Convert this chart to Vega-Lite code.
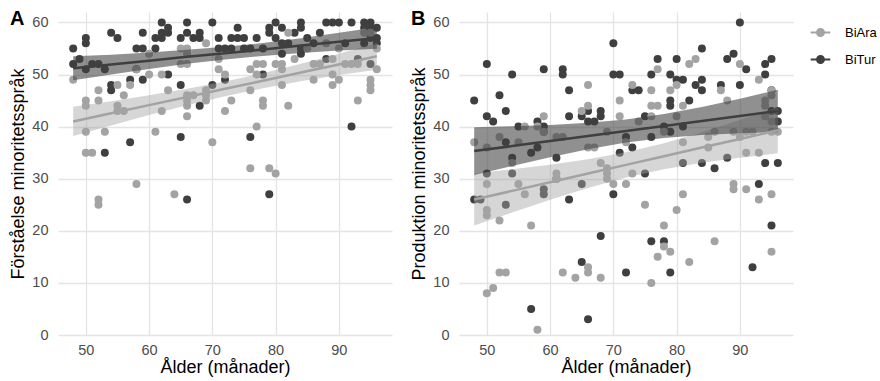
{
  "$schema": "https://vega.github.io/schema/vega-lite/v6.json",
  "padding": {"left": 9, "top": 9, "right": 0, "bottom": 1},
  "background": "white",
  "config": {
    "view": {"stroke": null},
    "font": "Liberation Sans",
    "concat": {"spacing": 18},
    "axis": {"domain": false, "ticks": false, "labelFont": "Liberation Sans", "labelFontSize": 14.5, "labelColor": "#4d4d4d", "titleFont": "Liberation Sans", "titleFontSize": 18, "titleFontWeight": "normal", "titleColor": "#000000"},
    "legend": {"labelFont": "Liberation Sans", "labelFontSize": 13, "labelColor": "#000000"}
  },
  "datasets": {
    "pts": [
      {"panel":"A","group":"BiTur","age":48,"score":55},{"panel":"A","group":"BiTur","age":48,"score":52},{"panel":"A","group":"BiTur","age":49,"score":53},{"panel":"A","group":"BiTur","age":50,"score":57},{"panel":"A","group":"BiTur","age":50,"score":56},{"panel":"A","group":"BiTur","age":50,"score":51},{"panel":"A","group":"BiTur","age":51,"score":52},{"panel":"A","group":"BiTur","age":52,"score":52},{"panel":"A","group":"BiTur","age":53,"score":51},{"panel":"A","group":"BiTur","age":53,"score":35},{"panel":"A","group":"BiTur","age":54,"score":58},{"panel":"A","group":"BiTur","age":54,"score":48},{"panel":"A","group":"BiTur","age":54,"score":47},{"panel":"A","group":"BiTur","age":55,"score":57},{"panel":"A","group":"BiTur","age":57,"score":49},{"panel":"A","group":"BiTur","age":57,"score":37},{"panel":"A","group":"BiTur","age":58,"score":55},{"panel":"A","group":"BiTur","age":58,"score":51},{"panel":"A","group":"BiTur","age":59,"score":55},{"panel":"A","group":"BiTur","age":59,"score":58},{"panel":"A","group":"BiTur","age":59,"score":49},{"panel":"A","group":"BiTur","age":61,"score":57},{"panel":"A","group":"BiTur","age":61,"score":55},{"panel":"A","group":"BiTur","age":62,"score":58},{"panel":"A","group":"BiTur","age":62,"score":60},{"panel":"A","group":"BiTur","age":62,"score":57},{"panel":"A","group":"BiTur","age":63,"score":58},{"panel":"A","group":"BiTur","age":63,"score":59},{"panel":"A","group":"BiTur","age":63,"score":50},{"panel":"A","group":"BiTur","age":65,"score":57},{"panel":"A","group":"BiTur","age":65,"score":48},{"panel":"A","group":"BiTur","age":65,"score":38},{"panel":"A","group":"BiTur","age":66,"score":60},{"panel":"A","group":"BiTur","age":66,"score":58},{"panel":"A","group":"BiTur","age":67,"score":57},{"panel":"A","group":"BiTur","age":68,"score":58},{"panel":"A","group":"BiTur","age":68,"score":57},{"panel":"A","group":"BiTur","age":68,"score":44},{"panel":"A","group":"BiTur","age":70,"score":60},{"panel":"A","group":"BiTur","age":70,"score":48},{"panel":"A","group":"BiTur","age":71,"score":57},{"panel":"A","group":"BiTur","age":71,"score":55},{"panel":"A","group":"BiTur","age":72,"score":55},{"panel":"A","group":"BiTur","age":72,"score":49},{"panel":"A","group":"BiTur","age":73,"score":55},{"panel":"A","group":"BiTur","age":73,"score":57},{"panel":"A","group":"BiTur","age":74,"score":59},{"panel":"A","group":"BiTur","age":74,"score":57},{"panel":"A","group":"BiTur","age":75,"score":55},{"panel":"A","group":"BiTur","age":75,"score":57},{"panel":"A","group":"BiTur","age":76,"score":55},{"panel":"A","group":"BiTur","age":76,"score":38},{"panel":"A","group":"BiTur","age":77,"score":57},{"panel":"A","group":"BiTur","age":78,"score":55},{"panel":"A","group":"BiTur","age":78,"score":50},{"panel":"A","group":"BiTur","age":79,"score":58},{"panel":"A","group":"BiTur","age":79,"score":59},{"panel":"A","group":"BiTur","age":80,"score":60},{"panel":"A","group":"BiTur","age":80,"score":57},{"panel":"A","group":"BiTur","age":81,"score":59},{"panel":"A","group":"BiTur","age":81,"score":56},{"panel":"A","group":"BiTur","age":81,"score":54},{"panel":"A","group":"BiTur","age":82,"score":56},{"panel":"A","group":"BiTur","age":83,"score":58},{"panel":"A","group":"BiTur","age":84,"score":60},{"panel":"A","group":"BiTur","age":84,"score":59},{"panel":"A","group":"BiTur","age":84,"score":55},{"panel":"A","group":"BiTur","age":84,"score":54},{"panel":"A","group":"BiTur","age":85,"score":57},{"panel":"A","group":"BiTur","age":86,"score":56},{"panel":"A","group":"BiTur","age":87,"score":58},{"panel":"A","group":"BiTur","age":88,"score":60},{"panel":"A","group":"BiTur","age":88,"score":53},{"panel":"A","group":"BiTur","age":89,"score":60},{"panel":"A","group":"BiTur","age":90,"score":60},{"panel":"A","group":"BiTur","age":91,"score":56},{"panel":"A","group":"BiTur","age":92,"score":60},{"panel":"A","group":"BiTur","age":92,"score":40},{"panel":"A","group":"BiTur","age":93,"score":53},{"panel":"A","group":"BiTur","age":94,"score":60},{"panel":"A","group":"BiTur","age":94,"score":59},{"panel":"A","group":"BiTur","age":94,"score":56},{"panel":"A","group":"BiTur","age":95,"score":60},{"panel":"A","group":"BiTur","age":95,"score":59},{"panel":"A","group":"BiTur","age":95,"score":57},{"panel":"A","group":"BiTur","age":95,"score":52},{"panel":"A","group":"BiTur","age":96,"score":59},{"panel":"A","group":"BiTur","age":96,"score":57},{"panel":"A","group":"BiTur","age":96,"score":56},{"panel":"A","group":"BiTur","age":66,"score":26},{"panel":"A","group":"BiTur","age":79,"score":27},
      {"panel":"A","group":"BiAra","age":48,"score":49},{"panel":"A","group":"BiAra","age":50,"score":45},{"panel":"A","group":"BiAra","age":50,"score":44},{"panel":"A","group":"BiAra","age":50,"score":39},{"panel":"A","group":"BiAra","age":50,"score":35},{"panel":"A","group":"BiAra","age":51,"score":35},{"panel":"A","group":"BiAra","age":52,"score":47},{"panel":"A","group":"BiAra","age":52,"score":45},{"panel":"A","group":"BiAra","age":52,"score":26},{"panel":"A","group":"BiAra","age":52,"score":25},{"panel":"A","group":"BiAra","age":53,"score":39},{"panel":"A","group":"BiAra","age":55,"score":48},{"panel":"A","group":"BiAra","age":55,"score":44},{"panel":"A","group":"BiAra","age":55,"score":43},{"panel":"A","group":"BiAra","age":56,"score":46},{"panel":"A","group":"BiAra","age":56,"score":43},{"panel":"A","group":"BiAra","age":57,"score":48},{"panel":"A","group":"BiAra","age":58,"score":51},{"panel":"A","group":"BiAra","age":58,"score":29},{"panel":"A","group":"BiAra","age":60,"score":54},{"panel":"A","group":"BiAra","age":60,"score":50},{"panel":"A","group":"BiAra","age":61,"score":39},{"panel":"A","group":"BiAra","age":62,"score":50},{"panel":"A","group":"BiAra","age":62,"score":43},{"panel":"A","group":"BiAra","age":63,"score":47},{"panel":"A","group":"BiAra","age":64,"score":27},{"panel":"A","group":"BiAra","age":65,"score":55},{"panel":"A","group":"BiAra","age":65,"score":52},{"panel":"A","group":"BiAra","age":66,"score":55},{"panel":"A","group":"BiAra","age":66,"score":54},{"panel":"A","group":"BiAra","age":66,"score":52},{"panel":"A","group":"BiAra","age":66,"score":46},{"panel":"A","group":"BiAra","age":66,"score":45},{"panel":"A","group":"BiAra","age":66,"score":44},{"panel":"A","group":"BiAra","age":66,"score":42},{"panel":"A","group":"BiAra","age":67,"score":46},{"panel":"A","group":"BiAra","age":69,"score":56},{"panel":"A","group":"BiAra","age":69,"score":47},{"panel":"A","group":"BiAra","age":69,"score":46},{"panel":"A","group":"BiAra","age":69,"score":45},{"panel":"A","group":"BiAra","age":70,"score":37},{"panel":"A","group":"BiAra","age":71,"score":53},{"panel":"A","group":"BiAra","age":71,"score":51},{"panel":"A","group":"BiAra","age":72,"score":50},{"panel":"A","group":"BiAra","age":72,"score":43},{"panel":"A","group":"BiAra","age":73,"score":45},{"panel":"A","group":"BiAra","age":76,"score":51},{"panel":"A","group":"BiAra","age":76,"score":47},{"panel":"A","group":"BiAra","age":76,"score":32},{"panel":"A","group":"BiAra","age":77,"score":52},{"panel":"A","group":"BiAra","age":77,"score":50},{"panel":"A","group":"BiAra","age":77,"score":40},{"panel":"A","group":"BiAra","age":78,"score":52},{"panel":"A","group":"BiAra","age":78,"score":45},{"panel":"A","group":"BiAra","age":78,"score":44},{"panel":"A","group":"BiAra","age":79,"score":32},{"panel":"A","group":"BiAra","age":80,"score":31},{"panel":"A","group":"BiAra","age":80,"score":52},{"panel":"A","group":"BiAra","age":81,"score":52},{"panel":"A","group":"BiAra","age":81,"score":51},{"panel":"A","group":"BiAra","age":81,"score":48},{"panel":"A","group":"BiAra","age":82,"score":58},{"panel":"A","group":"BiAra","age":82,"score":44},{"panel":"A","group":"BiAra","age":83,"score":53},{"panel":"A","group":"BiAra","age":85,"score":55},{"panel":"A","group":"BiAra","age":86,"score":52},{"panel":"A","group":"BiAra","age":86,"score":49},{"panel":"A","group":"BiAra","age":87,"score":52},{"panel":"A","group":"BiAra","age":88,"score":56},{"panel":"A","group":"BiAra","age":89,"score":53},{"panel":"A","group":"BiAra","age":89,"score":50},{"panel":"A","group":"BiAra","age":89,"score":48},{"panel":"A","group":"BiAra","age":90,"score":55},{"panel":"A","group":"BiAra","age":90,"score":49},{"panel":"A","group":"BiAra","age":91,"score":52},{"panel":"A","group":"BiAra","age":92,"score":52},{"panel":"A","group":"BiAra","age":93,"score":52},{"panel":"A","group":"BiAra","age":93,"score":45},{"panel":"A","group":"BiAra","age":94,"score":58},{"panel":"A","group":"BiAra","age":95,"score":58},{"panel":"A","group":"BiAra","age":95,"score":49},{"panel":"A","group":"BiAra","age":95,"score":48},{"panel":"A","group":"BiAra","age":95,"score":47},{"panel":"A","group":"BiAra","age":96,"score":55},{"panel":"A","group":"BiAra","age":96,"score":51},
      {"panel":"B","group":"BiTur","age":48,"score":45},{"panel":"B","group":"BiTur","age":48,"score":26},{"panel":"B","group":"BiTur","age":49,"score":26},{"panel":"B","group":"BiTur","age":50,"score":52},{"panel":"B","group":"BiTur","age":50,"score":42},{"panel":"B","group":"BiTur","age":50,"score":31},{"panel":"B","group":"BiTur","age":51,"score":41},{"panel":"B","group":"BiTur","age":52,"score":46},{"panel":"B","group":"BiTur","age":53,"score":43},{"panel":"B","group":"BiTur","age":53,"score":37},{"panel":"B","group":"BiTur","age":53,"score":25},{"panel":"B","group":"BiTur","age":54,"score":50},{"panel":"B","group":"BiTur","age":54,"score":34},{"panel":"B","group":"BiTur","age":54,"score":31},{"panel":"B","group":"BiTur","age":55,"score":40},{"panel":"B","group":"BiTur","age":57,"score":35},{"panel":"B","group":"BiTur","age":57,"score":5},{"panel":"B","group":"BiTur","age":58,"score":41},{"panel":"B","group":"BiTur","age":58,"score":36},{"panel":"B","group":"BiTur","age":59,"score":51},{"panel":"B","group":"BiTur","age":59,"score":40},{"panel":"B","group":"BiTur","age":59,"score":39},{"panel":"B","group":"BiTur","age":59,"score":28},{"panel":"B","group":"BiTur","age":59,"score":27},{"panel":"B","group":"BiTur","age":61,"score":34},{"panel":"B","group":"BiTur","age":61,"score":30},{"panel":"B","group":"BiTur","age":62,"score":51},{"panel":"B","group":"BiTur","age":62,"score":50},{"panel":"B","group":"BiTur","age":63,"score":47},{"panel":"B","group":"BiTur","age":63,"score":42},{"panel":"B","group":"BiTur","age":63,"score":26},{"panel":"B","group":"BiTur","age":65,"score":42},{"panel":"B","group":"BiTur","age":65,"score":29},{"panel":"B","group":"BiTur","age":65,"score":14},{"panel":"B","group":"BiTur","age":66,"score":43},{"panel":"B","group":"BiTur","age":66,"score":41},{"panel":"B","group":"BiTur","age":66,"score":3},{"panel":"B","group":"BiTur","age":67,"score":41},{"panel":"B","group":"BiTur","age":68,"score":43},{"panel":"B","group":"BiTur","age":68,"score":42},{"panel":"B","group":"BiTur","age":68,"score":19},{"panel":"B","group":"BiTur","age":70,"score":56},{"panel":"B","group":"BiTur","age":70,"score":50},{"panel":"B","group":"BiTur","age":70,"score":27},{"panel":"B","group":"BiTur","age":71,"score":50},{"panel":"B","group":"BiTur","age":71,"score":35},{"panel":"B","group":"BiTur","age":72,"score":38},{"panel":"B","group":"BiTur","age":72,"score":12},{"panel":"B","group":"BiTur","age":73,"score":47},{"panel":"B","group":"BiTur","age":73,"score":36},{"panel":"B","group":"BiTur","age":74,"score":47},{"panel":"B","group":"BiTur","age":75,"score":42},{"panel":"B","group":"BiTur","age":75,"score":31},{"panel":"B","group":"BiTur","age":76,"score":50},{"panel":"B","group":"BiTur","age":76,"score":38},{"panel":"B","group":"BiTur","age":76,"score":18},{"panel":"B","group":"BiTur","age":77,"score":53},{"panel":"B","group":"BiTur","age":78,"score":40},{"panel":"B","group":"BiTur","age":78,"score":18},{"panel":"B","group":"BiTur","age":79,"score":50},{"panel":"B","group":"BiTur","age":79,"score":45},{"panel":"B","group":"BiTur","age":79,"score":44},{"panel":"B","group":"BiTur","age":79,"score":39},{"panel":"B","group":"BiTur","age":79,"score":12},{"panel":"B","group":"BiTur","age":80,"score":53},{"panel":"B","group":"BiTur","age":80,"score":49},{"panel":"B","group":"BiTur","age":81,"score":49},{"panel":"B","group":"BiTur","age":81,"score":40},{"panel":"B","group":"BiTur","age":81,"score":33},{"panel":"B","group":"BiTur","age":82,"score":45},{"panel":"B","group":"BiTur","age":83,"score":48},{"panel":"B","group":"BiTur","age":84,"score":55},{"panel":"B","group":"BiTur","age":84,"score":49},{"panel":"B","group":"BiTur","age":84,"score":47},{"panel":"B","group":"BiTur","age":84,"score":33},{"panel":"B","group":"BiTur","age":86,"score":32},{"panel":"B","group":"BiTur","age":87,"score":48},{"panel":"B","group":"BiTur","age":88,"score":53},{"panel":"B","group":"BiTur","age":88,"score":34},{"panel":"B","group":"BiTur","age":89,"score":54},{"panel":"B","group":"BiTur","age":90,"score":60},{"panel":"B","group":"BiTur","age":90,"score":48},{"panel":"B","group":"BiTur","age":91,"score":51},{"panel":"B","group":"BiTur","age":92,"score":13},{"panel":"B","group":"BiTur","age":93,"score":29},{"panel":"B","group":"BiTur","age":94,"score":52},{"panel":"B","group":"BiTur","age":94,"score":50},{"panel":"B","group":"BiTur","age":94,"score":33},{"panel":"B","group":"BiTur","age":95,"score":53},{"panel":"B","group":"BiTur","age":95,"score":47},{"panel":"B","group":"BiTur","age":95,"score":43},{"panel":"B","group":"BiTur","age":95,"score":21},{"panel":"B","group":"BiTur","age":96,"score":43},{"panel":"B","group":"BiTur","age":96,"score":41},{"panel":"B","group":"BiTur","age":96,"score":33},
      {"panel":"B","group":"BiAra","age":48,"score":37},{"panel":"B","group":"BiAra","age":50,"score":36},{"panel":"B","group":"BiAra","age":50,"score":29},{"panel":"B","group":"BiAra","age":50,"score":24},{"panel":"B","group":"BiAra","age":50,"score":23},{"panel":"B","group":"BiAra","age":50,"score":8},{"panel":"B","group":"BiAra","age":51,"score":9},{"panel":"B","group":"BiAra","age":52,"score":38},{"panel":"B","group":"BiAra","age":52,"score":22},{"panel":"B","group":"BiAra","age":52,"score":12},{"panel":"B","group":"BiAra","age":53,"score":12},{"panel":"B","group":"BiAra","age":54,"score":33},{"panel":"B","group":"BiAra","age":55,"score":37},{"panel":"B","group":"BiAra","age":55,"score":29},{"panel":"B","group":"BiAra","age":56,"score":40},{"panel":"B","group":"BiAra","age":56,"score":27},{"panel":"B","group":"BiAra","age":57,"score":21},{"panel":"B","group":"BiAra","age":58,"score":40},{"panel":"B","group":"BiAra","age":58,"score":1},{"panel":"B","group":"BiAra","age":59,"score":42},{"panel":"B","group":"BiAra","age":59,"score":39},{"panel":"B","group":"BiAra","age":61,"score":38},{"panel":"B","group":"BiAra","age":61,"score":31},{"panel":"B","group":"BiAra","age":61,"score":30},{"panel":"B","group":"BiAra","age":62,"score":38},{"panel":"B","group":"BiAra","age":62,"score":12},{"panel":"B","group":"BiAra","age":64,"score":11},{"panel":"B","group":"BiAra","age":65,"score":43},{"panel":"B","group":"BiAra","age":66,"score":48},{"panel":"B","group":"BiAra","age":66,"score":44},{"panel":"B","group":"BiAra","age":66,"score":36},{"panel":"B","group":"BiAra","age":66,"score":13},{"panel":"B","group":"BiAra","age":66,"score":12},{"panel":"B","group":"BiAra","age":67,"score":36},{"panel":"B","group":"BiAra","age":68,"score":33},{"panel":"B","group":"BiAra","age":68,"score":11},{"panel":"B","group":"BiAra","age":69,"score":39},{"panel":"B","group":"BiAra","age":69,"score":32},{"panel":"B","group":"BiAra","age":69,"score":31},{"panel":"B","group":"BiAra","age":69,"score":30},{"panel":"B","group":"BiAra","age":70,"score":29},{"panel":"B","group":"BiAra","age":71,"score":45},{"panel":"B","group":"BiAra","age":71,"score":42},{"panel":"B","group":"BiAra","age":72,"score":37},{"panel":"B","group":"BiAra","age":72,"score":29},{"panel":"B","group":"BiAra","age":73,"score":48},{"panel":"B","group":"BiAra","age":73,"score":31},{"panel":"B","group":"BiAra","age":74,"score":41},{"panel":"B","group":"BiAra","age":75,"score":25},{"panel":"B","group":"BiAra","age":76,"score":47},{"panel":"B","group":"BiAra","age":76,"score":44},{"panel":"B","group":"BiAra","age":76,"score":42},{"panel":"B","group":"BiAra","age":76,"score":10},{"panel":"B","group":"BiAra","age":77,"score":51},{"panel":"B","group":"BiAra","age":77,"score":44},{"panel":"B","group":"BiAra","age":77,"score":15},{"panel":"B","group":"BiAra","age":78,"score":39},{"panel":"B","group":"BiAra","age":78,"score":21},{"panel":"B","group":"BiAra","age":78,"score":17},{"panel":"B","group":"BiAra","age":79,"score":47},{"panel":"B","group":"BiAra","age":79,"score":16},{"panel":"B","group":"BiAra","age":80,"score":48},{"panel":"B","group":"BiAra","age":80,"score":42},{"panel":"B","group":"BiAra","age":80,"score":24},{"panel":"B","group":"BiAra","age":81,"score":44},{"panel":"B","group":"BiAra","age":81,"score":37},{"panel":"B","group":"BiAra","age":81,"score":27},{"panel":"B","group":"BiAra","age":82,"score":52},{"panel":"B","group":"BiAra","age":82,"score":14},{"panel":"B","group":"BiAra","age":83,"score":53},{"panel":"B","group":"BiAra","age":85,"score":38},{"panel":"B","group":"BiAra","age":85,"score":36},{"panel":"B","group":"BiAra","age":86,"score":39},{"panel":"B","group":"BiAra","age":86,"score":18},{"panel":"B","group":"BiAra","age":87,"score":47},{"panel":"B","group":"BiAra","age":88,"score":45},{"panel":"B","group":"BiAra","age":89,"score":39},{"panel":"B","group":"BiAra","age":89,"score":29},{"panel":"B","group":"BiAra","age":89,"score":28},{"panel":"B","group":"BiAra","age":90,"score":52},{"panel":"B","group":"BiAra","age":90,"score":38},{"panel":"B","group":"BiAra","age":91,"score":39},{"panel":"B","group":"BiAra","age":91,"score":35},{"panel":"B","group":"BiAra","age":91,"score":28},{"panel":"B","group":"BiAra","age":92,"score":39},{"panel":"B","group":"BiAra","age":93,"score":49},{"panel":"B","group":"BiAra","age":93,"score":35},{"panel":"B","group":"BiAra","age":93,"score":26},{"panel":"B","group":"BiAra","age":94,"score":45},{"panel":"B","group":"BiAra","age":94,"score":44},{"panel":"B","group":"BiAra","age":94,"score":42},{"panel":"B","group":"BiAra","age":95,"score":47},{"panel":"B","group":"BiAra","age":95,"score":46},{"panel":"B","group":"BiAra","age":95,"score":41},{"panel":"B","group":"BiAra","age":95,"score":39},{"panel":"B","group":"BiAra","age":95,"score":27},{"panel":"B","group":"BiAra","age":95,"score":16},{"panel":"B","group":"BiAra","age":96,"score":39}
    ],
    "bands": [
      {"panel":"A","group":"BiTur","age":48,"lo":48.9,"fit":51.2,"hi":53.5},{"panel":"A","group":"BiTur","age":54,"lo":50.0,"fit":51.9,"hi":53.8},{"panel":"A","group":"BiTur","age":60,"lo":51.05,"fit":52.65,"hi":54.25},{"panel":"A","group":"BiTur","age":66,"lo":52.06,"fit":53.4,"hi":54.74},{"panel":"A","group":"BiTur","age":72,"lo":52.89,"fit":54.1,"hi":55.31},{"panel":"A","group":"BiTur","age":78,"lo":53.56,"fit":54.8,"hi":56.04},{"panel":"A","group":"BiTur","age":84,"lo":54.13,"fit":55.55,"hi":56.97},{"panel":"A","group":"BiTur","age":90,"lo":54.6,"fit":56.3,"hi":58.0},{"panel":"A","group":"BiTur","age":96,"lo":54.95,"fit":57.0,"hi":59.05},
      {"panel":"A","group":"BiAra","age":48,"lo":38.2,"fit":41.0,"hi":43.8},{"panel":"A","group":"BiAra","age":54,"lo":40.23,"fit":42.56,"hi":44.89},{"panel":"A","group":"BiAra","age":60,"lo":42.22,"fit":44.13,"hi":46.04},{"panel":"A","group":"BiAra","age":66,"lo":44.1,"fit":45.69,"hi":47.28},{"panel":"A","group":"BiAra","age":72,"lo":45.83,"fit":47.25,"hi":48.67},{"panel":"A","group":"BiAra","age":78,"lo":47.36,"fit":48.81,"hi":50.26},{"panel":"A","group":"BiAra","age":84,"lo":48.7,"fit":50.38,"hi":52.06},{"panel":"A","group":"BiAra","age":90,"lo":49.89,"fit":51.94,"hi":53.99},{"panel":"A","group":"BiAra","age":96,"lo":50.9,"fit":53.5,"hi":56.1},
      {"panel":"B","group":"BiTur","age":48,"lo":30.7,"fit":35.3,"hi":39.9},{"panel":"B","group":"BiTur","age":54,"lo":32.45,"fit":36.26,"hi":40.07},{"panel":"B","group":"BiTur","age":60,"lo":34.13,"fit":37.22,"hi":40.31},{"panel":"B","group":"BiTur","age":66,"lo":35.66,"fit":38.19,"hi":40.72},{"panel":"B","group":"BiTur","age":72,"lo":36.93,"fit":39.15,"hi":41.37},{"panel":"B","group":"BiTur","age":78,"lo":37.82,"fit":40.11,"hi":42.4},{"panel":"B","group":"BiTur","age":84,"lo":38.39,"fit":41.08,"hi":43.77},{"panel":"B","group":"BiTur","age":90,"lo":38.72,"fit":42.04,"hi":45.36},{"panel":"B","group":"BiTur","age":96,"lo":38.94,"fit":43.0,"hi":47.06},
      {"panel":"B","group":"BiAra","age":48,"lo":21.0,"fit":26.0,"hi":31.0},{"panel":"B","group":"BiAra","age":54,"lo":23.52,"fit":27.66,"hi":31.8},{"panel":"B","group":"BiAra","age":60,"lo":25.96,"fit":29.33,"hi":32.7},{"panel":"B","group":"BiAra","age":66,"lo":28.24,"fit":30.99,"hi":33.74},{"panel":"B","group":"BiAra","age":72,"lo":30.22,"fit":32.65,"hi":35.08},{"panel":"B","group":"BiAra","age":78,"lo":31.82,"fit":34.31,"hi":36.8},{"panel":"B","group":"BiAra","age":84,"lo":33.05,"fit":35.98,"hi":38.91},{"panel":"B","group":"BiAra","age":90,"lo":34.03,"fit":37.64,"hi":41.25},{"panel":"B","group":"BiAra","age":96,"lo":34.88,"fit":39.3,"hi":43.72}
    ]
  },
  "hconcat": [
    {
      "width": 334, "height": 323,
      "title": {"text": "A", "anchor": "start", "frame": "group", "fontSize": 20, "fontWeight": "bold", "color": "#000000", "baseline": "top", "dx": -48, "offset": -17},
      "layer": [
        {
          "data": {"name": "pts"},
          "transform": [{"filter": "datum.panel === 'A'"}],
          "mark": {"type": "circle", "size": 64, "opacity": 1},
          "encoding": {
            "x": {"field": "age", "type": "quantitative", "scale": {"domain": [45.6, 98.4], "nice": false, "zero": false},
                  "axis": {"title": "Ålder (månader)", "values": [50,55,60,65,70,75,80,85,90,95], "labelPadding": 8, "titlePadding": 2,
                           "labelExpr": "datum.value % 10 === 0 ? datum.label : ''",
                           "gridColor": {"condition": {"test": "datum.value % 10 === 0", "value": "#e4e4e4"}, "value": "#f1f1f1"},
                           "gridWidth": {"condition": {"test": "datum.value % 10 === 0", "value": 1.3}, "value": 0.8}}},
            "y": {"field": "score", "type": "quantitative", "scale": {"domain": [0, 62], "nice": false},
                  "axis": {"title": "Förståelse minoritetsspråk", "values": [0,5,10,15,20,25,30,35,40,45,50,55,60], "labelPadding": 10, "titlePadding": 4,
                           "labelExpr": "datum.value % 10 === 0 ? datum.label : ''",
                           "gridColor": {"condition": {"test": "datum.value % 10 === 0", "value": "#e4e4e4"}, "value": "#f1f1f1"},
                           "gridWidth": {"condition": {"test": "datum.value % 10 === 0", "value": 1.3}, "value": 0.8}}},
            "color": {"field": "group", "type": "nominal", "scale": {"domain": ["BiAra", "BiTur"], "range": ["#a3a3a3", "#3f3f3f"]},
                      "legend": {"title": null, "orient": "right", "offset": 7, "padding": 13, "rowPadding": 10, "labelOffset": 17,
                                 "symbolType": "M-1.6,0H1.6M-0.55,0a0.55,0.55 0 1,0 1.1,0a0.55,0.55 0 1,0 -1.1,0",
                                 "symbolSize": 150, "symbolStrokeWidth": 2.2, "symbolOpacity": 1,
                                 "encode": {"symbols": {"update": {"stroke": {"scale": "color", "field": "value"}}}}}}
          }
        },
        {
          "data": {"name": "bands"},
          "transform": [{"filter": "datum.panel === 'A' && datum.group === 'BiAra'"}],
          "mark": {"type": "area", "opacity": 0.45},
          "encoding": {
            "x": {"field": "age", "type": "quantitative"},
            "y": {"field": "lo", "type": "quantitative", "stack": null},
            "y2": {"field": "hi"},
            "color": {"field": "group", "type": "nominal", "legend": null}
          }
        },
        {
          "data": {"name": "bands"},
          "transform": [{"filter": "datum.panel === 'A' && datum.group === 'BiTur'"}],
          "mark": {"type": "area", "opacity": 0.58},
          "encoding": {
            "x": {"field": "age", "type": "quantitative"},
            "y": {"field": "lo", "type": "quantitative", "stack": null},
            "y2": {"field": "hi"},
            "color": {"field": "group", "type": "nominal", "legend": null}
          }
        },
        {
          "data": {"name": "bands"},
          "transform": [{"filter": "datum.panel === 'A'"}],
          "mark": {"type": "line", "strokeWidth": 2.5},
          "encoding": {
            "x": {"field": "age", "type": "quantitative"},
            "y": {"field": "fit", "type": "quantitative"},
            "color": {"field": "group", "type": "nominal", "legend": null}
          }
        }
      ]
    },
    {
      "width": 334, "height": 323,
      "title": {"text": "B", "anchor": "start", "frame": "group", "fontSize": 20, "fontWeight": "bold", "color": "#000000", "baseline": "top", "dx": -48, "offset": -17},
      "layer": [
        {
          "data": {"name": "pts"},
          "transform": [{"filter": "datum.panel === 'B'"}],
          "mark": {"type": "circle", "size": 64, "opacity": 1},
          "encoding": {
            "x": {"field": "age", "type": "quantitative", "scale": {"domain": [45.6, 98.4], "nice": false, "zero": false},
                  "axis": {"title": "Ålder (månader)", "values": [50,55,60,65,70,75,80,85,90,95], "labelPadding": 8, "titlePadding": 2,
                           "labelExpr": "datum.value % 10 === 0 ? datum.label : ''",
                           "gridColor": {"condition": {"test": "datum.value % 10 === 0", "value": "#e4e4e4"}, "value": "#f1f1f1"},
                           "gridWidth": {"condition": {"test": "datum.value % 10 === 0", "value": 1.3}, "value": 0.8}}},
            "y": {"field": "score", "type": "quantitative", "scale": {"domain": [0, 62], "nice": false},
                  "axis": {"title": "Produktion minoritetsspråk", "values": [0,5,10,15,20,25,30,35,40,45,50,55,60], "labelPadding": 10, "titlePadding": 4,
                           "labelExpr": "datum.value % 10 === 0 ? datum.label : ''",
                           "gridColor": {"condition": {"test": "datum.value % 10 === 0", "value": "#e4e4e4"}, "value": "#f1f1f1"},
                           "gridWidth": {"condition": {"test": "datum.value % 10 === 0", "value": 1.3}, "value": 0.8}}},
            "color": {"field": "group", "type": "nominal", "scale": {"domain": ["BiAra", "BiTur"], "range": ["#a3a3a3", "#3f3f3f"]}}
          }
        },
        {
          "data": {"name": "bands"},
          "transform": [{"filter": "datum.panel === 'B' && datum.group === 'BiAra'"}],
          "mark": {"type": "area", "opacity": 0.45},
          "encoding": {
            "x": {"field": "age", "type": "quantitative"},
            "y": {"field": "lo", "type": "quantitative", "stack": null},
            "y2": {"field": "hi"},
            "color": {"field": "group", "type": "nominal", "legend": null}
          }
        },
        {
          "data": {"name": "bands"},
          "transform": [{"filter": "datum.panel === 'B' && datum.group === 'BiTur'"}],
          "mark": {"type": "area", "opacity": 0.58},
          "encoding": {
            "x": {"field": "age", "type": "quantitative"},
            "y": {"field": "lo", "type": "quantitative", "stack": null},
            "y2": {"field": "hi"},
            "color": {"field": "group", "type": "nominal", "legend": null}
          }
        },
        {
          "data": {"name": "bands"},
          "transform": [{"filter": "datum.panel === 'B'"}],
          "mark": {"type": "line", "strokeWidth": 2.5},
          "encoding": {
            "x": {"field": "age", "type": "quantitative"},
            "y": {"field": "fit", "type": "quantitative"},
            "color": {"field": "group", "type": "nominal", "legend": null}
          }
        }
      ]
    }
  ],
  "resolve": {"scale": {"color": "shared"}, "legend": {"color": "shared"}}
}
